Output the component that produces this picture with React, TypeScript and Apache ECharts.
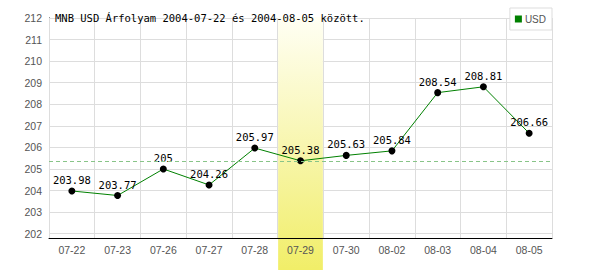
import React, { useEffect, useRef } from "react";
import * as echarts from "echarts";

const titleText = "MNB USD Árfolyam 2004-07-22 és 2004-08-05 között.";
const seriesName = "USD";
const categories = ["07-22", "07-23", "07-26", "07-27", "07-28", "07-29", "07-30", "08-02", "08-03", "08-04", "08-05"];
const values = [203.98, 203.77, 205, 204.26, 205.97, 205.38, 205.63, 205.84, 208.54, 208.81, 206.66];
const highlightIndex = 5;
const yMin = 201.8;
const yMax = 212;

export default function App() {
  const ref = useRef<HTMLDivElement>(null);
  useEffect(() => {
    document.body.style.margin = "0";
    if (!ref.current) return;
    const chart = echarts.init(ref.current, null, { renderer: "svg" });
    const option: any = {
      animation: false,
      backgroundColor: "#ffffff",
      title: {
        text: titleText,
        left: 50,
        top: 7,
        textStyle: { fontFamily: "DejaVu Sans Mono", fontSize: 10.5, fontWeight: "normal", color: "#000" },
      },
      legend: {
        right: 48,
        top: 8,
        padding: [6, 6, 6, 5],
        itemWidth: 7,
        itemHeight: 7,
        itemGap: 4,
        backgroundColor: "#fff",
        borderColor: "#dddddd",
        borderWidth: 1,
        borderRadius: 0,
        data: [{ name: seriesName, icon: "rect", itemStyle: { color: "#008000" } }],
        textStyle: { fontFamily: "Liberation Sans", fontSize: 10, color: "#555", padding: [0, 0, 0, -2] },
        z: 10,
      },
      grid: { left: 49, right: 48, top: 18, bottom: 32 },
      xAxis: {
        type: "category",
        data: categories,
        boundaryGap: true,
        z: 3,
        axisLine: { lineStyle: { color: "#000", width: 1 } },
        axisTick: { show: false },
        splitLine: { show: true, lineStyle: { color: "#dddddd", width: 1 } },
        axisLabel: { color: "#555", fontFamily: "Liberation Sans", fontSize: 10.5, margin: 6, interval: 0 },
      },
      yAxis: {
        type: "value",
        min: yMin,
        max: yMax,
        splitNumber: 10,
        z: 0,
        axisLine: { show: true, lineStyle: { color: "#000", width: 1 } },
        axisTick: { show: false },
        splitLine: { show: true, lineStyle: { color: "#dddddd", width: 1 } },
        axisLabel: { color: "#555", fontFamily: "Liberation Sans", fontSize: 10.5, margin: 7, showMinLabel: false },
      },
      series: [
        {
          name: seriesName,
          type: "line",
          data: values,
          z: 4,
          symbol: "circle",
          symbolSize: 7,
          itemStyle: { color: "#000" },
          lineStyle: { color: "#008000", width: 1 },
          label: {
            show: true,
            position: "top",
            distance: 2,
            color: "#000",
            fontFamily: "DejaVu Sans Mono",
            fontSize: 10.5,
          },
          markLine: {
            silent: true,
            symbol: "none",
            label: { show: false },
            itemStyle: { color: "#88c488" },
            lineStyle: { color: "#88c488", type: [4, 3], width: 1, opacity: 1 },
            data: [{ yAxis: values[highlightIndex] }],
          },
        },
      ],
    };
    chart.setOption(option);
    const c = chart.convertToPixel({ xAxisIndex: 0 }, highlightIndex) as number;
    const a = chart.convertToPixel({ xAxisIndex: 0 }, highlightIndex - 1) as number;
    const top = chart.convertToPixel({ yAxisIndex: 0 }, yMax) as number;
    const half = (c - a) / 2;
    chart.setOption({
      graphic: [
        {
          type: "rect",
          z: 1,
          silent: true,
          shape: { x: c - half + 0.5, y: top - 1, width: half * 2 - 1, height: 270 - top + 1 },
          style: {
            fill: new echarts.graphic.LinearGradient(0, 0, 0, 1, [
              { offset: 0, color: "#fffff4" },
              { offset: 0.5, color: "#f8f6b0" },
              { offset: 1, color: "#f1ee68" },
            ]),
          },
        },
      ],
    });
    return () => chart.dispose();
  }, []);
  return <div ref={ref} style={{ width: 600, height: 270 }} />;
}
